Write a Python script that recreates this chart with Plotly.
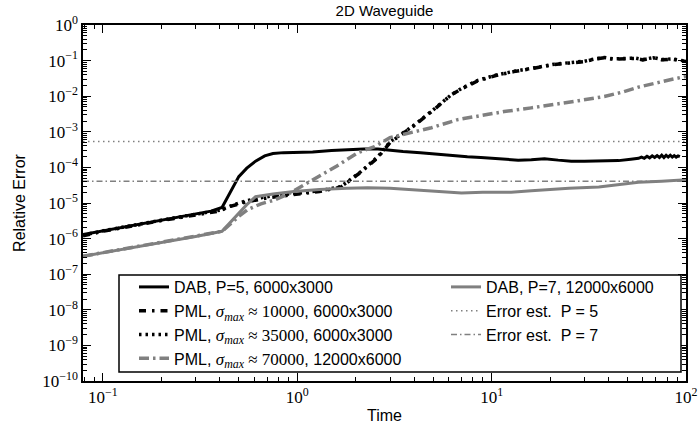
import plotly.graph_objects as go

# ---------------- data ----------------
dab5_t = [0.079, 0.1, 0.15, 0.2, 0.3, 0.36, 0.41, 0.45, 0.5, 0.55, 0.61, 0.68, 0.75, 0.85, 1.0,
          1.2, 1.5, 1.8, 2.2, 2.6, 3.0, 3.5, 4.3, 5.0, 6.0, 7.5, 8.8, 11, 13.7, 16, 18.7, 22,
          25.7, 30, 38, 45, 52, 57, 59, 61, 63, 65, 67, 69, 71, 73, 75, 77, 79, 81, 83, 85, 87,
          89, 91, 93]
dab5_e = [1.3e-6, 1.65e-6, 2.5e-6, 3.3e-6, 4.9e-6, 5.9e-6, 7.5e-6, 2.0e-5, 5.5e-5, 9.5e-5, 1.5e-4,
          2.1e-4, 2.45e-4, 2.6e-4, 2.65e-4, 2.7e-4, 3.0e-4, 3.2e-4, 3.3e-4, 3.3e-4, 3.0e-4, 2.8e-4,
          2.6e-4, 2.4e-4, 2.2e-4, 2.0e-4, 1.9e-4, 1.75e-4, 1.6e-4, 1.65e-4, 1.75e-4, 1.6e-4, 1.5e-4,
          1.5e-4, 1.5e-4, 1.55e-4, 1.7e-4, 1.8e-4, 1.95e-4, 1.8e-4, 2.05e-4, 1.85e-4, 2.1e-4,
          1.9e-4, 2.15e-4, 1.9e-4, 2.2e-4, 1.9e-4, 2.2e-4, 1.95e-4, 2.2e-4, 1.95e-4, 2.15e-4,
          1.95e-4, 2.1e-4, 2.0e-4]

dab7_t = [0.079, 0.1, 0.2, 0.3, 0.41, 0.5, 0.55, 0.61, 0.75, 0.96, 1.3, 1.8, 2.3, 3.0, 4.3, 5.5,
          7.0, 9.0, 12.6, 16, 19.5, 25, 35.6, 45, 57, 75, 100]
dab7_e = [3.2e-7, 4.0e-7, 7.8e-7, 1.15e-6, 1.6e-6, 5.0e-6, 9.0e-6, 1.5e-5, 1.8e-5, 2.1e-5, 2.4e-5,
          2.6e-5, 2.7e-5, 2.6e-5, 2.3e-5, 2.1e-5, 1.9e-5, 2.0e-5, 2.0e-5, 2.2e-5, 2.4e-5, 2.6e-5,
          2.8e-5, 3.3e-5, 3.8e-5, 4.1e-5, 4.5e-5]

pml10_t = [0.079, 0.1, 0.2, 0.3, 0.4, 0.45, 0.54, 0.7, 0.96, 1.3, 1.68, 2.1, 2.6, 3.0, 3.5, 4.0,
           5.0, 6.2, 7.0, 8.5, 10.5, 13, 17, 21, 25, 30, 34, 38, 42, 48, 55, 60, 68, 75, 85, 100]
pml10_e = [1.2e-6, 1.6e-6, 3.2e-6, 4.7e-6, 6.0e-6, 8.0e-6, 1.05e-5, 1.4e-5, 1.7e-5, 2.1e-5, 2.8e-5,
           7.0e-5, 1.9e-4, 5.0e-4, 9.0e-4, 1.5e-3, 4.0e-3, 1.1e-2, 1.6e-2, 2.7e-2, 3.8e-2, 4.9e-2,
           6.3e-2, 7.8e-2, 8.5e-2, 9.4e-2, 1.1e-1, 1.2e-1, 1.1e-1, 1.1e-1, 1.15e-1, 1.05e-1, 1.2e-1,
           1.05e-1, 1.1e-1, 9.4e-2]

pml35_t = [0.079, 0.1, 0.2, 0.3, 0.4, 0.5, 0.6, 0.75, 1.0, 1.3, 1.68, 2.1, 2.6, 3.0, 3.5, 4.0,
           5.0, 6.2, 7.0, 8.5, 10.5, 13, 17, 21, 25, 30, 34, 38, 42, 48, 55, 60, 68, 75, 85, 100]
pml35_e = [1.25e-6, 1.65e-6, 3.3e-6, 4.9e-6, 6.3e-6, 1.0e-5, 1.3e-5, 1.6e-5, 1.9e-5, 2.2e-5, 2.9e-5,
           7.2e-5, 2.0e-4, 5.2e-4, 9.3e-4, 1.55e-3, 4.1e-3, 1.1e-2, 1.65e-2, 2.8e-2, 3.9e-2, 5.0e-2,
           6.4e-2, 7.9e-2, 8.7e-2, 9.6e-2, 1.12e-1, 1.22e-1, 1.12e-1, 1.12e-1, 1.17e-1, 1.07e-1,
           1.22e-1, 1.07e-1, 1.12e-1, 9.6e-2]

pml70_t = [0.079, 0.1, 0.2, 0.3, 0.41, 0.45, 0.5, 0.555, 0.65, 0.76, 0.9, 1.13, 1.35, 1.6, 2.05,
           2.5, 3.0, 3.7, 4.9, 6.7, 9, 11.6, 16, 21, 28, 38, 47, 57, 70, 85, 100]
pml70_e = [3.2e-7, 4.0e-7, 7.8e-7, 1.15e-6, 1.6e-6, 2.5e-6, 4.2e-6, 6.5e-6, 9.5e-6, 1.2e-5, 1.8e-5,
           3.7e-5, 6.5e-5, 1.1e-4, 2.6e-4, 3.8e-4, 6.9e-4, 8.9e-4, 1.3e-3, 2.2e-3, 3.0e-3, 3.7e-3,
           4.7e-3, 5.8e-3, 7.5e-3, 9.8e-3, 1.3e-2, 1.8e-2, 2.4e-2, 3.0e-2, 3.6e-2]

est_t = [0.079, 100]
est5_e = [5.3e-4, 5.3e-4]
est7_e = [4.1e-5, 4.1e-5]

x_ticks = [0.1, 1, 10, 100]
x_ticktext = ["10<sup>\u22121</sup>", "10<sup>0</sup>", "10<sup>1</sup>", "10<sup>2</sup>"]
y_exps = list(range(-10, 1))
y_ticks = [10.0 ** e for e in y_exps]
y_ticktext = ["10<sup>%s</sup>" % (str(e).replace("-", "\u2212")) for e in y_exps]

x_minor = [0.08, 0.09] + [m * 10.0 ** k for k in (-1, 0, 1) for m in range(2, 10)]
y_minor = [m * 10.0 ** k for k in range(-10, 0) for m in range(2, 10)]

# ---------------- figure ----------------
BLACK = "#000000"
GRAY = "#808080"
SERIF = "Liberation Serif"
SANS = "Liberation Sans, Arial, sans-serif"


def sig(v):
    return ('<span style="font-family:%s;font-size:17px"><i>\u03c3</i><sub><i>max</i></sub> \u2248 %s</span>'
            % (SERIF, v))


fig = go.Figure()


def add(x, y, name, color, width, dash, legend):
    fig.add_trace(go.Scatter(x=x, y=y, mode="lines", name=name, legend=legend,
                             line=dict(color=color, width=width, dash=dash)))


add(dab5_t, dab5_e, "DAB, P=5, 6000x3000", BLACK, 3, "solid", "legend")
add(pml10_t, pml10_e, "PML, " + sig("10000") + ", 6000x3000", BLACK, 3.5, "7px,6px,2.5px,6px", "legend")
add(pml35_t, pml35_e, "PML, " + sig("35000") + ", 6000x3000", BLACK, 3.5, "2.5px,4px", "legend")
add(pml70_t, pml70_e, "PML, " + sig("70000") + ", 12000x6000", GRAY, 3.5, "10px,4px,2.5px,4px", "legend")
add(dab7_t, dab7_e, "DAB, P=7, 12000x6000", GRAY, 3, "solid", "legend2")
add(est_t, est5_e, "Error est.  P = 5", GRAY, 1.5, "1.5px,3.5px", "legend2")
add(est_t, est7_e, "Error est.  P = 7", GRAY, 1.5, "6px,3px,1.5px,3px", "legend2")

W, H = 699, 431
L, R, T, B = 83, 13, 25, 50
pw, ph = W - L - R, H - T - B


def px_x(p):
    return (p - L) / pw


def px_y(p):
    return (H - B - p) / ph


axis_common = dict(
    type="log", showgrid=False, zeroline=False, showline=True, linecolor=BLACK, linewidth=1.5,
    mirror="ticks", ticks="inside", ticklen=8, tickwidth=1, tickcolor=BLACK, automargin=False,
    tickfont=dict(family=SERIF, size=17, color=BLACK),
)

fig.update_layout(
    width=W, height=H,
    margin=dict(l=L, r=R, t=T, b=B, autoexpand=False),
    paper_bgcolor="white", plot_bgcolor="white",
    font=dict(family=SANS, color=BLACK, size=16),
    title=dict(text="2D Waveguide", x=0.5, xref="paper", xanchor="center",
               y=1 - 11 / H, yref="container", yanchor="middle",
               font=dict(family=SANS, size=15, color=BLACK)),
    xaxis=dict(**axis_common, range=[-1.1024, 2], tickvals=x_ticks, ticktext=x_ticktext,
               minor=dict(tickvals=x_minor, ticks="inside", ticklen=4, tickcolor=BLACK),
               title=dict(text="Time", font=dict(family=SANS, size=16), standoff=4)),
    yaxis=dict(**axis_common, range=[-10, 0], tickvals=y_ticks, ticktext=y_ticktext,
               minor=dict(tickvals=y_minor, ticks="inside", ticklen=4, tickcolor=BLACK),
               title=dict(text="Relative Error", font=dict(family=SANS, size=16), standoff=13)),
    legend=dict(x=px_x(134), y=px_y(270), xanchor="left", yanchor="top",
                bgcolor="rgba(0,0,0,0)", borderwidth=0, font=dict(family=SANS, size=16),
                tracegroupgap=0, itemwidth=30),
    legend2=dict(x=px_x(446), y=px_y(270), xanchor="left", yanchor="top",
                 bgcolor="rgba(0,0,0,0)", borderwidth=0, font=dict(family=SANS, size=16),
                 tracegroupgap=0, itemwidth=30),
    shapes=[dict(type="rect", xref="paper", yref="paper", layer="above",
                 x0=px_x(119), x1=px_x(681), y0=px_y(372), y1=px_y(275),
                 line=dict(color=BLACK, width=1.5), fillcolor="white")],
    showlegend=True,
)

fig.write_html("out.html", config={"displayModeBar": False},
               post_script="document.body.style.margin='0';document.body.style.overflow='hidden';")
